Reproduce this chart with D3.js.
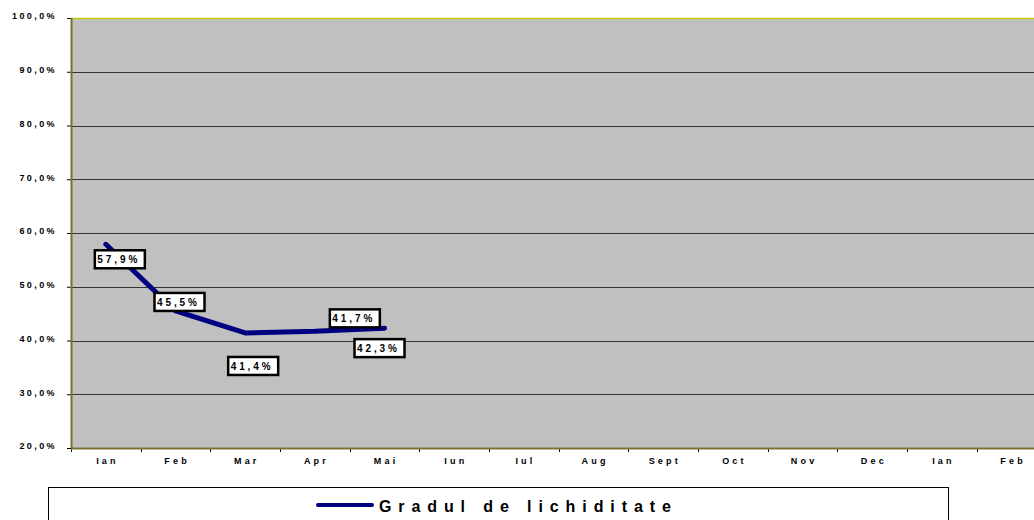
<!DOCTYPE html>
<html><head><meta charset="utf-8">
<script src="https://cdn.jsdelivr.net/npm/d3@7"></script>
<style>body{margin:0;background:#fff;overflow:hidden}svg{display:block;font-family:"Liberation Sans",Arial,sans-serif}</style>
</head><body><svg id="c" width="1034" height="520"></svg>
<script>
const categories = ["Ian","Feb","Mar","Apr","Mai","Iun","Iul","Aug","Sept","Oct","Nov","Dec","Ian","Feb"];
const values = [57.9, 45.5, 41.4, 41.7, 42.3];
const valueLabels = ["57,9%","45,5%","41,4%","41,7%","42,3%"];
const yTicks = [20,30,40,50,60,70,80,90,100];
const seriesName = "Gradul de lichiditate";

const svg = d3.select("#c");
const L = 71, T = 18, B = 448, R = 71 + 14*69.67;
const x = d3.scaleBand().domain(d3.range(categories.length)).range([L, R]).paddingInner(0).paddingOuter(0);
const y = d3.scaleLinear().domain([20,100]).range([B, T]);

svg.append("rect").attr("x", L).attr("y", T).attr("width", R-L).attr("height", B-T).attr("fill", "#c0c0c0");

// gridlines
svg.append("g").selectAll("line").data(yTicks.filter(d => d>20 && d<100)).join("line")
  .attr("x1", L).attr("x2", R).attr("y1", d => Math.round(y(d))+0.5).attr("y2", d => Math.round(y(d))+0.5)
  .attr("stroke", "#333").attr("stroke-width", 1);
svg.append("line").attr("x1", L).attr("x2", R).attr("y1", T+0.5).attr("y2", T+0.5).attr("stroke", "#c8c800").attr("stroke-width", 1.5);

const fmt = d => d3.format(".1f")(d).replace(".", ",") + "%";
// Y axis
const yAxis = d3.axisLeft(y).tickValues(yTicks).tickSize(4).tickFormat(fmt);
const gy = svg.append("g").attr("transform", `translate(${L},0)`).call(yAxis);
gy.select(".domain").remove();
gy.selectAll(".tick line").attr("stroke", "#000");
gy.selectAll("text").attr("font-size", 9).attr("font-weight", "bold").style("letter-spacing", "2.4px").attr("fill", "#000").attr("x", -14).attr("dy", "0.1em");
svg.append("line").attr("x1", L+0.5).attr("x2", L+0.5).attr("y1", T).attr("y2", B).attr("stroke", "#7a7030").attr("stroke-width", 2);

// X axis
const xAxis = d3.axisBottom(x).tickFormat(i => categories[i]).tickSize(0).tickPadding(10);
const gx = svg.append("g").attr("transform", `translate(0,${B})`).call(xAxis);
gx.select(".domain").remove();
gx.selectAll("text").attr("font-size", 9).attr("font-weight", "bold").style("letter-spacing", "3.2px").attr("dx", "1.6px").attr("fill", "#000");
svg.append("g").selectAll("line").data(d3.range(categories.length+1)).join("line")
  .attr("x1", i => Math.round(L + i*x.bandwidth())+0.5).attr("x2", i => Math.round(L + i*x.bandwidth())+0.5)
  .attr("y1", B).attr("y2", B+4).attr("stroke", "#000");
svg.append("line").attr("x1", L).attr("x2", R).attr("y1", B+0.5).attr("y2", B+0.5).attr("stroke", "#7a7030").attr("stroke-width", 2);

// line
const line = d3.line().x((d,i) => x(i) + x.bandwidth()/2).y(d => y(d));
svg.append("path").datum(values).attr("d", line).attr("fill", "none")
  .attr("stroke", "#000080").attr("stroke-width", 5).attr("stroke-linecap", "round").attr("stroke-linejoin", "round");

// data labels (offsets relative to point)
const labelOffsets = [[-11, 6], [-21, -18], [-17, 24], [15, -22], [-30, 11]];
values.forEach((v, i) => {
  const px = x(i) + x.bandwidth()/2 + labelOffsets[i][0];
  const py = y(v) + labelOffsets[i][1];
  const g = svg.append("g").attr("transform", `translate(${px},${py})`);
  g.append("rect").attr("x", 0).attr("y", 0).attr("width", 50).attr("height", 18)
    .attr("fill", "#fff").attr("stroke", "#000").attr("stroke-width", 2.5);
  g.append("text").attr("x", 2.5).attr("y", 13).attr("font-size", 10).attr("font-weight", "bold")
    .style("letter-spacing", "2.9px").text(valueLabels[i]);
});

// legend
svg.append("rect").attr("x", 48.5).attr("y", 487.5).attr("width", 900).attr("height", 60)
  .attr("fill", "#fff").attr("stroke", "#000").attr("stroke-width", 1);
svg.append("line").attr("x1", 318).attr("x2", 372).attr("y1", 505).attr("y2", 505)
  .attr("stroke", "#000080").attr("stroke-width", 4).attr("stroke-linecap", "round");
svg.append("text").attr("x", 379).attr("y", 512).attr("font-size", 16).attr("font-weight", "bold")
  .style("letter-spacing", "6.9px").text(seriesName);
</script></body></html>
